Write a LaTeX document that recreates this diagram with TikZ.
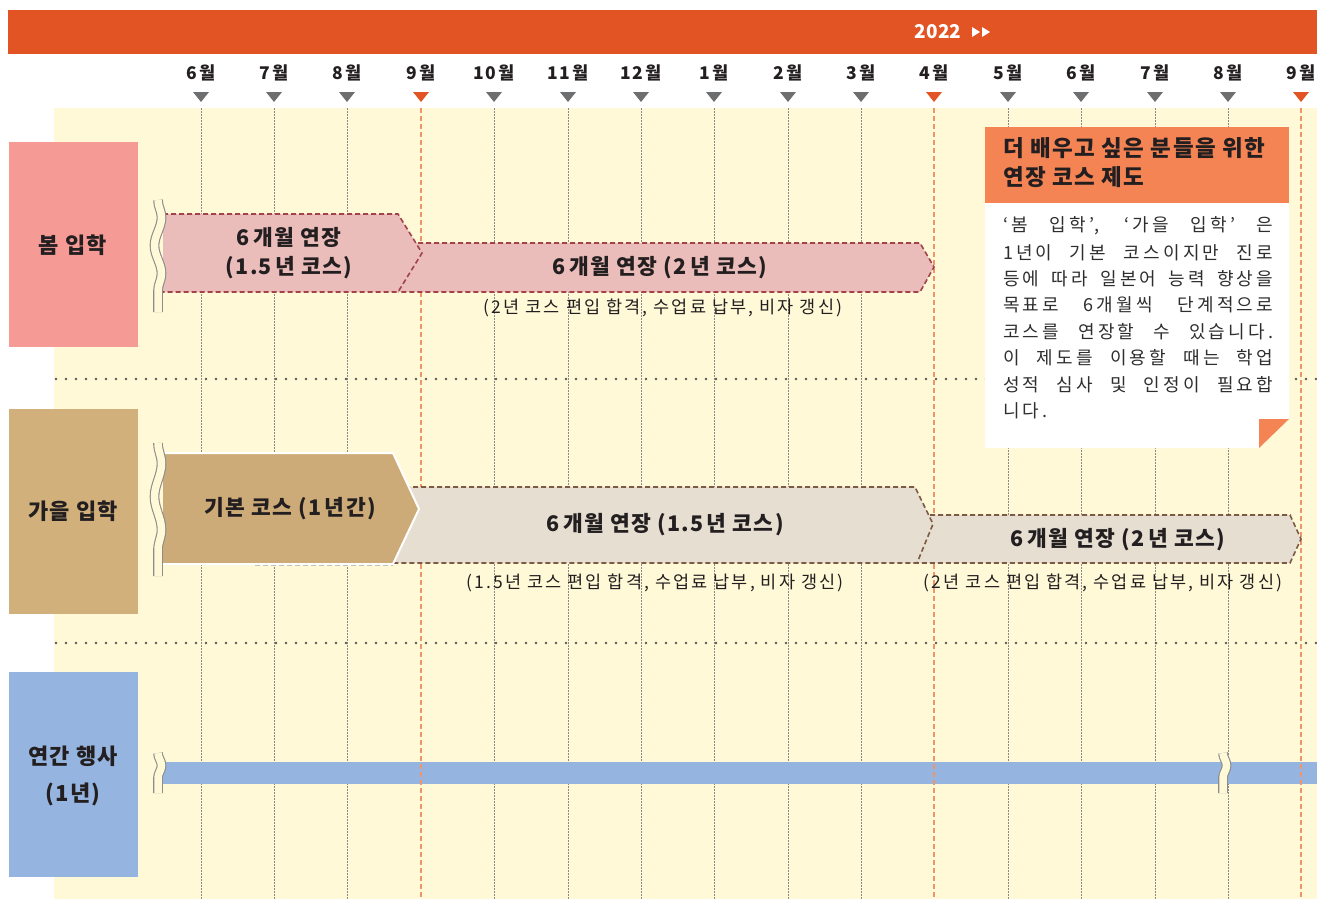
\documentclass[tikz,border=0pt]{standalone}
\usepackage{fontspec}
\setmainfont{Noto Sans CJK KR}
\newfontfamily\krsp[LetterSpace=6]{Noto Sans CJK KR}
\newfontfamily\krsub[LetterSpace=12]{Noto Sans CJK KR}
\newfontfamily\krbody[LetterSpace=18]{Noto Sans CJK KR}
\usetikzlibrary{decorations.pathmorphing}
\definecolor{hdr}{HTML}{E35425}
\definecolor{bgy}{HTML}{FFF9D7}
\definecolor{txt}{HTML}{231F20}
\definecolor{bodytxt}{HTML}{2E2E2E}
\definecolor{springlab}{HTML}{F59A95}
\definecolor{springfill}{HTML}{EBBDBA}
\definecolor{springline}{HTML}{A0434A}
\definecolor{autlab}{HTML}{D1B07C}
\definecolor{basicfill}{HTML}{CDAB78}
\definecolor{extfill}{HTML}{E5DED1}
\definecolor{extline}{HTML}{7D5A44}
\definecolor{bluebar}{HTML}{95B4DF}
\definecolor{infohdr}{HTML}{F58455}
\definecolor{gridg}{HTML}{8A8A8A}
\definecolor{gridor}{HTML}{F0956A}
\definecolor{trig}{HTML}{6D6E70}
\definecolor{wavg}{HTML}{8C8C8C}
\tikzset{
  lbl/.style={font=\krsp\bfseries\fontsize{22}{37}\selectfont, text=txt, align=center},
  mon/.style={font=\krsp\bfseries\fontsize{17.5}{20}\selectfont, text=txt, inner sep=0},
  arrtxt/.style={font=\krsp\bfseries\fontsize{21.5}{29}\selectfont, text=txt, align=center, inner sep=0},
  subtxt/.style={font=\krsub\fontsize{17.5}{20}\selectfont, text=txt, inner sep=0},
  bodyline/.style={font=\krbody\fontsize{18}{20}\selectfont, text=bodytxt, anchor=west, inner sep=0},
  infotitle/.style={font=\krsp\bfseries\fontsize{22.5}{29}\selectfont, text=txt, anchor=north west, align=left, inner sep=0},
  wav/.style={draw=wavg, line width=1.1pt, double=bgy, double distance=7.5pt,
     decorate, decoration={snake, amplitude=3.5pt, segment length=#1}},
  gridgray/.style={draw=gridg, line width=0.8pt, dash pattern=on 1.5pt off 1.5pt},
  gridorange/.style={draw=gridor, line width=1.4pt, dash pattern=on 5pt off 3pt},
  dotrow/.style={draw=txt!75, line width=2.8pt, line cap=round, dash pattern=on 0pt off 10pt},
  springbord/.style={draw=springline, line width=1.6pt, dash pattern=on 5pt off 3pt},
  extbord/.style={draw=extline, line width=1.6pt, dash pattern=on 5pt off 3pt},
}
\begin{document}
\begin{tikzpicture}[x=1pt,y=-1pt]
\useasboundingbox (0,0) rectangle (1317,899);
% header
\fill[hdr] (8,10) rectangle (1317,54);
\node[font=\bfseries\fontsize{19}{22}\selectfont, text=white, inner sep=0] (year) at (938,32) {2022};
\fill[white] (972,27) -- (980,32) -- (972,37) -- cycle;
\fill[white] (982,27) -- (990,32) -- (982,37) -- cycle;
% background
\fill[bgy] (54,108) rectangle (1317,899);
% grid lines and month labels
\foreach \x/\m/\c [count=\i] in {201/6/g,274/7/g,347/8/g,421/9/o,494/10/g,568/11/g,641/12/g,714/1/g,788/2/g,861/3/g,934/4/o,1008/5/g,1081/6/g,1155/7/g,1228/8/g,1301/9/o}{
  \node[mon] (m\i) at (\x,73) {\m\,월};
  \if g\c
    \fill[trig] (\x-8,92) -- (\x+8,92) -- (\x,102) -- cycle;
    \draw[gridgray] (\x,108) -- (\x,899);
  \else
    \fill[hdr] (\x-8,92) -- (\x+8,92) -- (\x,102) -- cycle;
  \fi
}
% annual bar
\fill[bluebar] (163,762) rectangle (1317,784);
% orange dashed lines
\foreach \x in {421,934,1301}{
  \draw[gridorange] (\x,108) -- (\x,899);
}
% dotted separators
\draw[dotrow] (56,379) -- (1317,379);
\draw[dotrow] (56,643) -- (1317,643);
% left labels
\fill[springlab] (9,142) rectangle (138,347);
\node[lbl] (lspring) at (73,245) {봄 입학};
\fill[autlab] (9,409) rectangle (138,614);
\node[lbl] (lautumn) at (73,511) {가을 입학};
\fill[bluebar] (9,672) rectangle (138,877);
\node[lbl] (lannual) at (73,776) {연간 행사\\(1년)};
% spring arrows
\fill[springfill] (380,243) -- (920,243) -- (934,267) -- (920,292) -- (380,292) -- cycle;
\draw[springbord] (410,243) -- (920,243) -- (934,267) -- (920,292) -- (398,292);
\fill[springfill] (163,214) -- (398,214) -- (422,253) -- (398,292) -- (163,292) -- cycle;
\draw[springbord] (163,214) -- (398,214) -- (422,253) -- (398,292) -- (163,292);
\node[arrtxt] (s1) at (289,253) {6\,개월 연장\\(1.5\,년 코스)};
\node[arrtxt] (s2) at (660,268) {6\,개월 연장 (2\,년 코스)};
\node[subtxt] (s2sub) at (663,308) {(2년 코스 편입 합격, 수업료 납부, 비자 갱신)};
% autumn arrows
\fill[extfill] (900,515) -- (1290,515) -- (1301,539) -- (1290,563) -- (900,563) -- cycle;
\draw[extbord] (930,515) -- (1290,515) -- (1301,539) -- (1290,563) -- (917,563);
\fill[extfill] (380,487) -- (915,487) -- (933,524) -- (917,563) -- (380,563) -- cycle;
\draw[extbord] (405,487) -- (915,487) -- (933,524) -- (917,563) -- (393,563);
\draw[draw=gridg!60, line width=1pt, dash pattern=on 5pt off 3pt] (255,565) -- (393,565);
\fill[basicfill] (163,453) -- (393,453) -- (419,509) -- (393,564) -- (163,564) -- cycle;
\draw[white, line width=2pt] (163,453) -- (393,453) -- (419,509) -- (393,564) -- (163,564);
\node[arrtxt] (a0) at (290,509) {기본 코스 (1\,년간)};
\node[arrtxt] (a1) at (665,525) {6\,개월 연장 (1.5\,년 코스)};
\node[arrtxt] (a2) at (1118,540) {6\,개월 연장 (2\,년 코스)};
\node[subtxt] (a1sub) at (655,583) {(1.5년 코스 편입 합격, 수업료 납부, 비자 갱신)};
\node[subtxt] (a2sub) at (1103,583) {(2년 코스 편입 합격, 수업료 납부, 비자 갱신)};
% wavy breaks
\draw[wav=56pt] (158,200) -- (158,312);
\draw[wav=66pt] (158,443) -- (158,576);
\draw[wav=40pt] (158,753) -- (158,793);
\draw[wav=40pt] (1223,753) -- (1223,793);
% info box
\fill[white] (985,203) -- (1289,203) -- (1289,419) -- (1259,448) -- (985,448) -- cycle;
\fill[infohdr] (985,127) rectangle (1289,203);
\fill[infohdr] (1259,419) -- (1289,419) -- (1259,448) -- cycle;
\node[infotitle] (ititle) at (1003,137) {더 배우고 싶은 분들을 위한\\연장 코스 제도};
\node[bodyline] (b1) at (1003,226) {\makebox[270pt][s]{‘봄 입학’, ‘가을 입학’ 은}};
\node[bodyline] (b2) at (1003,253) {\makebox[270pt][s]{1\,년이 기본 코스이지만 진로}};
\node[bodyline] (b3) at (1003,279) {\makebox[270pt][s]{등에 따라 일본어 능력 향상을}};
\node[bodyline] (b4) at (1003,305) {\makebox[270pt][s]{목표로 6\,개월씩 단계적으로}};
\node[bodyline] (b5) at (1003,332) {\makebox[270pt][s]{코스를 연장할 수 있습니다.}};
\node[bodyline] (b6) at (1003,358) {\makebox[270pt][s]{이 제도를 이용할 때는 학업}};
\node[bodyline] (b7) at (1003,385) {\makebox[270pt][s]{성적 심사 및 인정이 필요합}};
\node[bodyline] (b8) at (1003,411) {니다.};
\end{tikzpicture}
\end{document}
